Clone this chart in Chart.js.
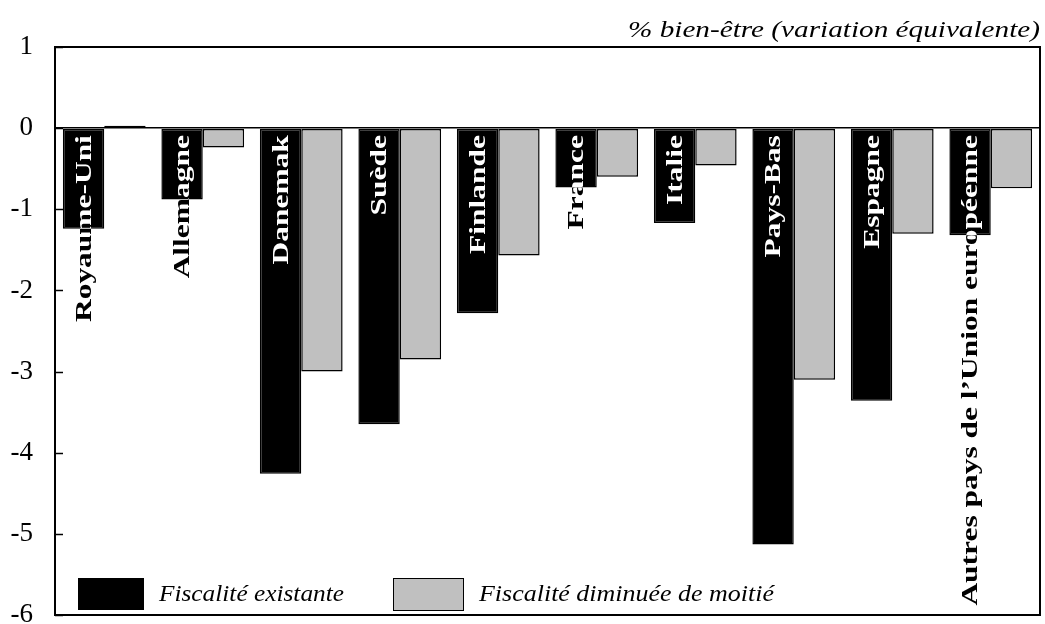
<!DOCTYPE html>
<html>
<head>
<meta charset="utf-8">
<script src="https://cdn.jsdelivr.net/npm/chart.js@4"></script>
<style>
  body { margin: 0; background: #fff; overflow: hidden; }
  canvas { display: block; }
  #warm { position: absolute; left: 0; top: 0; color: #fff; font-family: "Liberation Serif"; font-size: 20px; z-index: -1; }
</style>
</head>
<body>
<div id="warm"><span>Aa</span><b>Aa</b><i>Aa</i></div>
<canvas id="myChart" width="1045" height="624"></canvas>
<script>
var countries = ['Royaume-Uni', 'Allemagne', 'Danemak', 'Suède', 'Finlande', 'France', 'Italie', 'Pays-Bas', 'Espagne', "Autres pays de l\u2019Union européenne"];
var existante = [-1.24, -0.88, -4.26, -3.65, -2.28, -0.73, -1.17, -5.13, -3.36, -1.32];
var moitie = [0.03, -0.24, -3.0, -2.85, -1.57, -0.6, -0.46, -3.1, -1.3, -0.74];
var yTicks = [1, 0, -1, -2, -3, -4, -5, -6];
var unitLabel = '% bien-être (variation équivalente)';
var legendLabels = ['Fiscalité existante', 'Fiscalité diminuée de moitié'];

var serif = '"Liberation Serif"';

// labels inside the black bars: white over the bar, black outside it
var barLabels = {
    id: 'barLabels',
    afterDatasetsDraw: function (chart) {
        var ctx = chart.ctx;
        var meta = chart.getDatasetMeta(0);
        var zero = chart.scales.y.getPixelForValue(0);
        meta.data.forEach(function (bar, i) {
            var left = bar.x - bar.width / 2;
            var drawText = function (color) {
                ctx.save();
                ctx.translate(bar.x + 1, zero + 7);
                ctx.rotate(-Math.PI / 2);
                ctx.scale(1.31, 1);
                ctx.font = 'bold 24px ' + serif;
                ctx.textAlign = 'right';
                ctx.textBaseline = 'middle';
                ctx.fillStyle = color;
                ctx.fillText(countries[i], 0, 0);
                ctx.restore();
            };
            drawText('#000');
            ctx.save();
            ctx.beginPath();
            ctx.rect(left, zero, bar.width, bar.y - zero);
            ctx.clip();
            drawText('#fff');
            ctx.restore();
        });
    }
};

// frame, inside tick marks, unit title, legend in the plot
var decor = {
    id: 'decor',
    afterDraw: function (chart) {
        var ctx = chart.ctx;
        var a = chart.chartArea;
        var y = chart.scales.y;
        var top = y.getPixelForValue(1);
        var bottom = y.getPixelForValue(-6);
        ctx.save();
        ctx.strokeStyle = '#000';
        ctx.lineWidth = 2;
        ctx.strokeRect(a.left, top, a.right - a.left, bottom - top);
        ctx.lineWidth = 1.5;
        yTicks.forEach(function (t) {
            var py = Math.round(y.getPixelForValue(t)) + 0.5;
            ctx.beginPath();
            ctx.moveTo(a.left, py);
            ctx.lineTo(a.left + 8, py);
            ctx.stroke();
        });

        ctx.fillStyle = '#000';
        ctx.font = 'italic 24px ' + serif;
        ctx.textAlign = 'right';
        ctx.textBaseline = 'alphabetic';
        ctx.save();
        ctx.translate(a.right, 37);
        ctx.scale(412 / ctx.measureText(unitLabel).width, 1);
        ctx.fillText(unitLabel, 0, 0);
        ctx.restore();

        var ds = chart.data.datasets;
        var boxes = [[78, 578, 65, 31], [393, 578, 70, 32]];
        var textW = [185, 295];
        ctx.font = 'italic 23px ' + serif;
        ctx.textAlign = 'left';
        ctx.textBaseline = 'middle';
        boxes.forEach(function (b, i) {
            ctx.fillStyle = ds[i].backgroundColor;
            ctx.fillRect(b[0], b[1], b[2], b[3]);
            ctx.lineWidth = 1;
            ctx.strokeStyle = '#000';
            ctx.strokeRect(b[0] + 0.5, b[1] + 0.5, b[2], b[3]);
            ctx.fillStyle = '#000';
            ctx.save();
            ctx.translate(b[0] + b[2] + 16, b[1] + b[3] / 2 + 1);
            ctx.scale(textW[i] / ctx.measureText(legendLabels[i]).width, 1);
            ctx.fillText(legendLabels[i], 0, 0);
            ctx.restore();
        });
        ctx.restore();
    }
};

function build() {
    var ctx = document.getElementById('myChart').getContext('2d');
    return new Chart(ctx, {
        type: 'bar',
        data: {
            labels: countries,
            datasets: [{
                label: legendLabels[0],
                data: existante,
                backgroundColor: '#000000',
                borderColor: '#000000',
                borderWidth: 1.5,
                borderSkipped: false
            }, {
                label: legendLabels[1],
                data: moitie,
                backgroundColor: '#c0c0c0',
                borderColor: '#000000',
                borderWidth: 1.5,
                borderSkipped: false
            }]
        },
        options: {
            responsive: false,
            animation: false,
            layout: { padding: { top: 47, right: 5, bottom: 9, left: 0 } },
            datasets: { bar: { categoryPercentage: 0.84, barPercentage: 1.0 } },
            plugins: {
                legend: { display: false },
                tooltip: { enabled: false }
            },
            scales: {
                x: { display: false },
                y: {
                    min: -6,
                    max: 1,
                    afterFit: function (scale) {
                        scale.width = 55;
                        scale.paddingTop = 0;
                        scale.paddingBottom = 0;
                    },
                    afterBuildTicks: function (scale) {
                        scale.ticks = yTicks.map(function (v) { return { value: v }; });
                    },
                    border: { display: false },
                    grid: {
                        drawTicks: false,
                        lineWidth: 1.5,
                        color: function (c) { return c.tick && c.tick.value === 0 ? '#000' : 'rgba(0,0,0,0)'; }
                    },
                    ticks: {
                        padding: 22,
                        color: '#000',
                        font: { family: serif, size: 27 }
                    }
                }
            }
        },
        plugins: [barLabels, decor]
    });
}

window.addEventListener('load', function () {
    document.fonts.ready.then(function () { setTimeout(build, 50); });
});
</script>
</body>
</html>
